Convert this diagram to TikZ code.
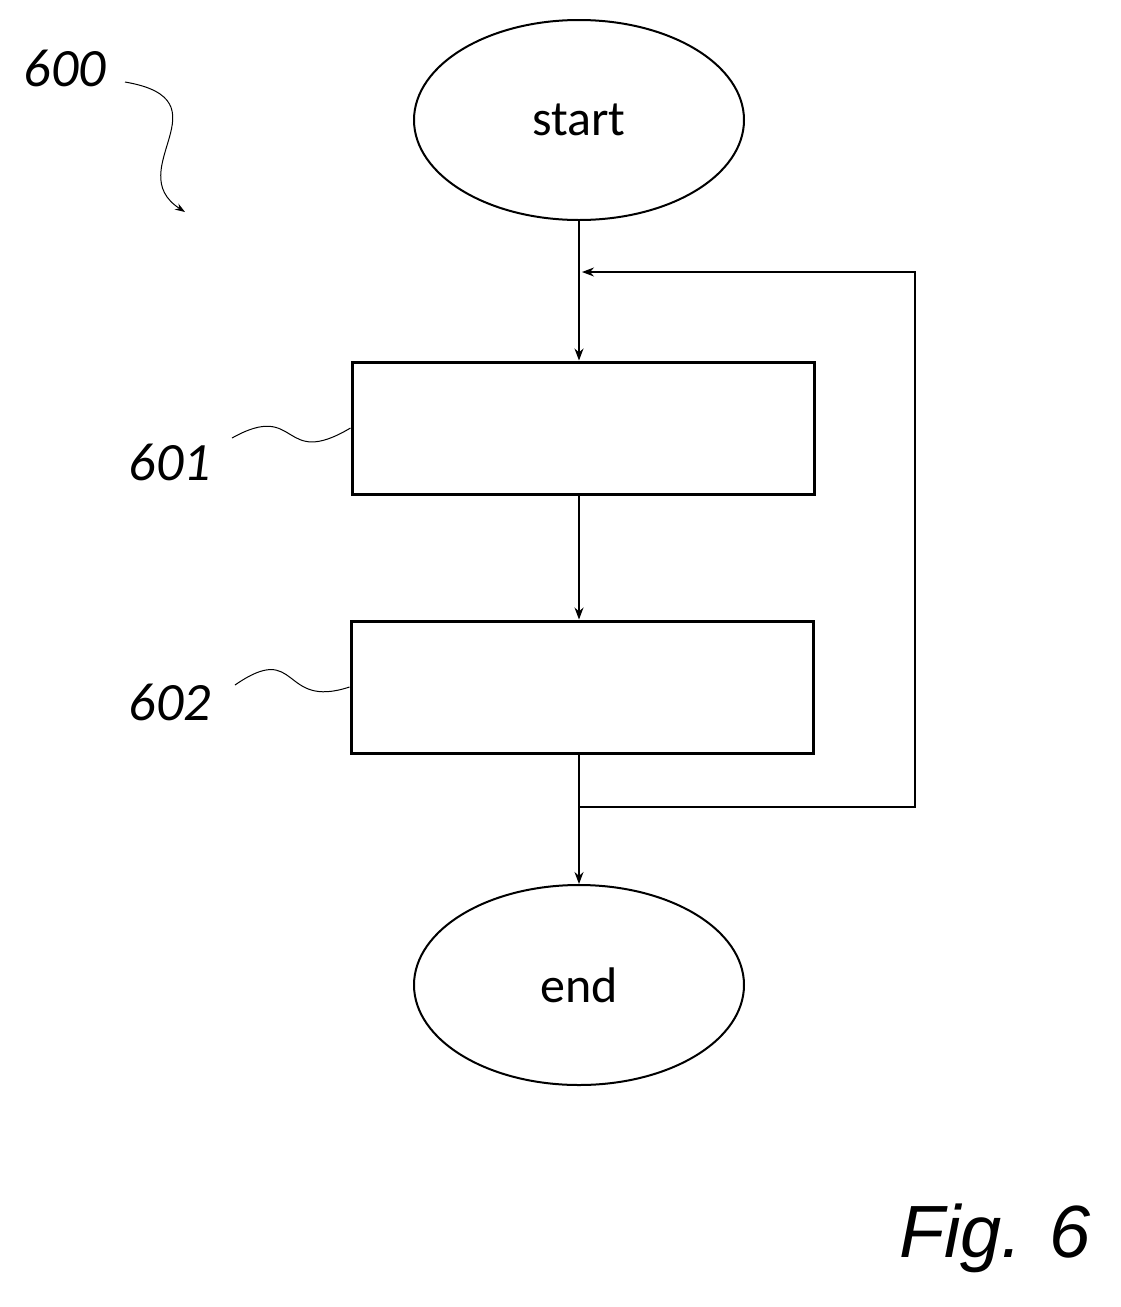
\documentclass[tikz,border=0pt]{standalone}
\usepackage{fontspec}
\setmainfont{Carlito}
\newfontfamily\arialf{Liberation Sans}
\usetikzlibrary{arrows.meta,shapes.geometric}
\begin{document}
\begin{tikzpicture}[x=1pt,y=-1pt,
  oval/.style={draw,ellipse,minimum width=330pt,minimum height=200pt,line width=2pt,font=\fontsize{50}{58}\selectfont},
  box/.style={draw,rectangle,minimum width=462pt,minimum height=132pt,line width=3pt},
  lab/.style={font=\itshape\fontsize{54}{62}\selectfont},
  arr/.style={-{Stealth[length=12pt,width=9pt]},line width=1.2pt},
  sq/.style={line width=1pt}]
\useasboundingbox (0,0) rectangle (1121,1307);
\node[oval] (s) at (579,120) {start};
\node[box] (b1) at (583,428) {};
\node[box] (b2) at (582,687) {};
\node[oval] (e) at (579,985) {end};
\draw[arr] (s.south) -- (s.south |- b1.north);
\draw[arr] (s.south |- b1.south) -- (s.south |- b2.north);
\draw[arr] (s.south |- b2.south) -- (e.north);
\coordinate (j) at (579,807);
\coordinate (c1) at (915,807);
\coordinate (c2) at (915,272);
\coordinate (t) at (582,272);
\draw[arr] (j) -- (c1) -- (c2) -- (t);
\node[lab] (l0) at (65,68) {600};
\node[lab] (l1) at (170,462) {601};
\node[lab] (l2) at (170,702) {602};
\coordinate (a0) at (125,82);
\coordinate (z0) at (185,212);
\draw[sq,-{Stealth[length=10pt,width=7pt]}] (a0) .. controls (230,100) and (120,170) .. (z0);
\draw[sq] (232,438) .. controls (300,400) and (280,470) .. (b1.west);
\draw[sq] (235,685) .. controls (300,640) and (280,710) .. (b2.west);
\node[font=\arialf\itshape\fontsize{74}{82}\selectfont] (fig) at (995,1238) {Fig. 6};
\end{tikzpicture}
\end{document}
